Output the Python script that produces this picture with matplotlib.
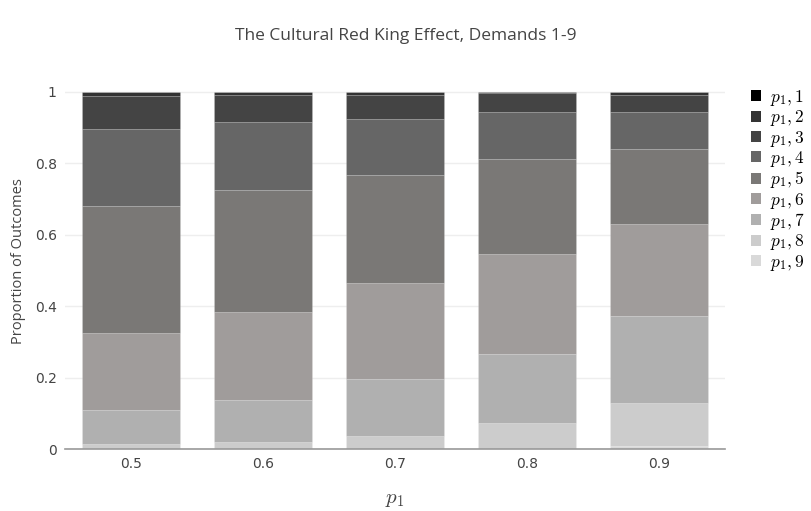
import matplotlib.pyplot as plt
from matplotlib.patches import Patch
import numpy as np

plt.rcParams['font.family'] = ['Open Sans', 'DejaVu Sans']
plt.rcParams['mathtext.fontset'] = 'cm'

p1_values = [0.5, 0.6, 0.7, 0.8, 0.9]
tick_labels = ['0.5', '0.6', '0.7', '0.8', '0.9']

# proportion of outcomes for each demand of p1 (1..9)
p1_1 = [0.0, 0.0, 0.0, 0.0, 0.0]
p1_2 = [0.013, 0.008, 0.008, 0.004, 0.010]
p1_3 = [0.092, 0.076, 0.067, 0.052, 0.046]
p1_4 = [0.216, 0.190, 0.158, 0.131, 0.103]
p1_5 = [0.355, 0.343, 0.301, 0.267, 0.211]
p1_6 = [0.215, 0.246, 0.270, 0.281, 0.258]
p1_7 = [0.094, 0.117, 0.160, 0.193, 0.244]
p1_8 = [0.015, 0.020, 0.036, 0.072, 0.120]
p1_9 = [0.0, 0.0, 0.0, 0.0, 0.008]

series = [p1_1, p1_2, p1_3, p1_4, p1_5, p1_6, p1_7, p1_8, p1_9]
labels = ['$p_1, %d$' % k for k in range(1, 10)]
colors = ['#000000', '#333333', '#444444', '#666666', '#7a7876',
          '#a09c9b', '#b0b0b0', '#cccccc', '#d9d9d9']

fig = plt.figure(figsize=(8.11, 5.11), dpi=100)
ax = fig.add_axes([65 / 811, 62 / 511, 660 / 811, 376 / 511])

bottom = np.zeros(len(p1_values))
# stack from demand 9 (bottom) up to demand 1 (top)
for vals, col in zip(series[::-1], colors[::-1]):
    ax.bar(p1_values, vals, width=0.0735, bottom=bottom, color=col,
           edgecolor='#ffffff30', linewidth=0.5, zorder=2)
    bottom += np.array(vals)

ax.set_xlim(0.45, 0.95)
ax.set_ylim(0, 1.0526)
ax.set_xticks(p1_values)
ax.set_xticklabels(tick_labels)
ax.set_yticks([0, 0.2, 0.4, 0.6, 0.8, 1.0])
ax.set_yticklabels(['0', '0.2', '0.4', '0.6', '0.8', '1'])
ax.tick_params(length=0, labelsize=10, colors='#444444', pad=6)
for lab in ax.get_xticklabels() + ax.get_yticklabels():
    lab.set_family('DejaVu Sans')
ax.grid(axis='y', color='#eeeeee', linewidth=1, zorder=0)
for s in ['top', 'right', 'left']:
    ax.spines[s].set_visible(False)
ax.spines['bottom'].set_color('#999999')
ax.spines['bottom'].set_linewidth(1.2)
ax.spines['bottom'].set_zorder(3)

ax.set_ylabel('Proportion of Outcomes', fontsize=10.5, color='#444444', labelpad=6)
ax.set_xlabel('$p_1$', fontsize=15, color='#444444', labelpad=12)
fig.suptitle('The Cultural Red King Effect, Demands 1-9', fontsize=12.5,
             color='#444444', y=0.945)

handles = [Patch(facecolor=c, edgecolor='none') for c in colors]
fig.legend(handles, labels, loc='upper left', bbox_to_anchor=(744 / 811, 430 / 511),
           frameon=False, fontsize=12.5, handlelength=0.6, handleheight=0.6,
           handletextpad=0.5, labelspacing=0.02, borderaxespad=0)

fig.savefig('out.png', dpi=100)
